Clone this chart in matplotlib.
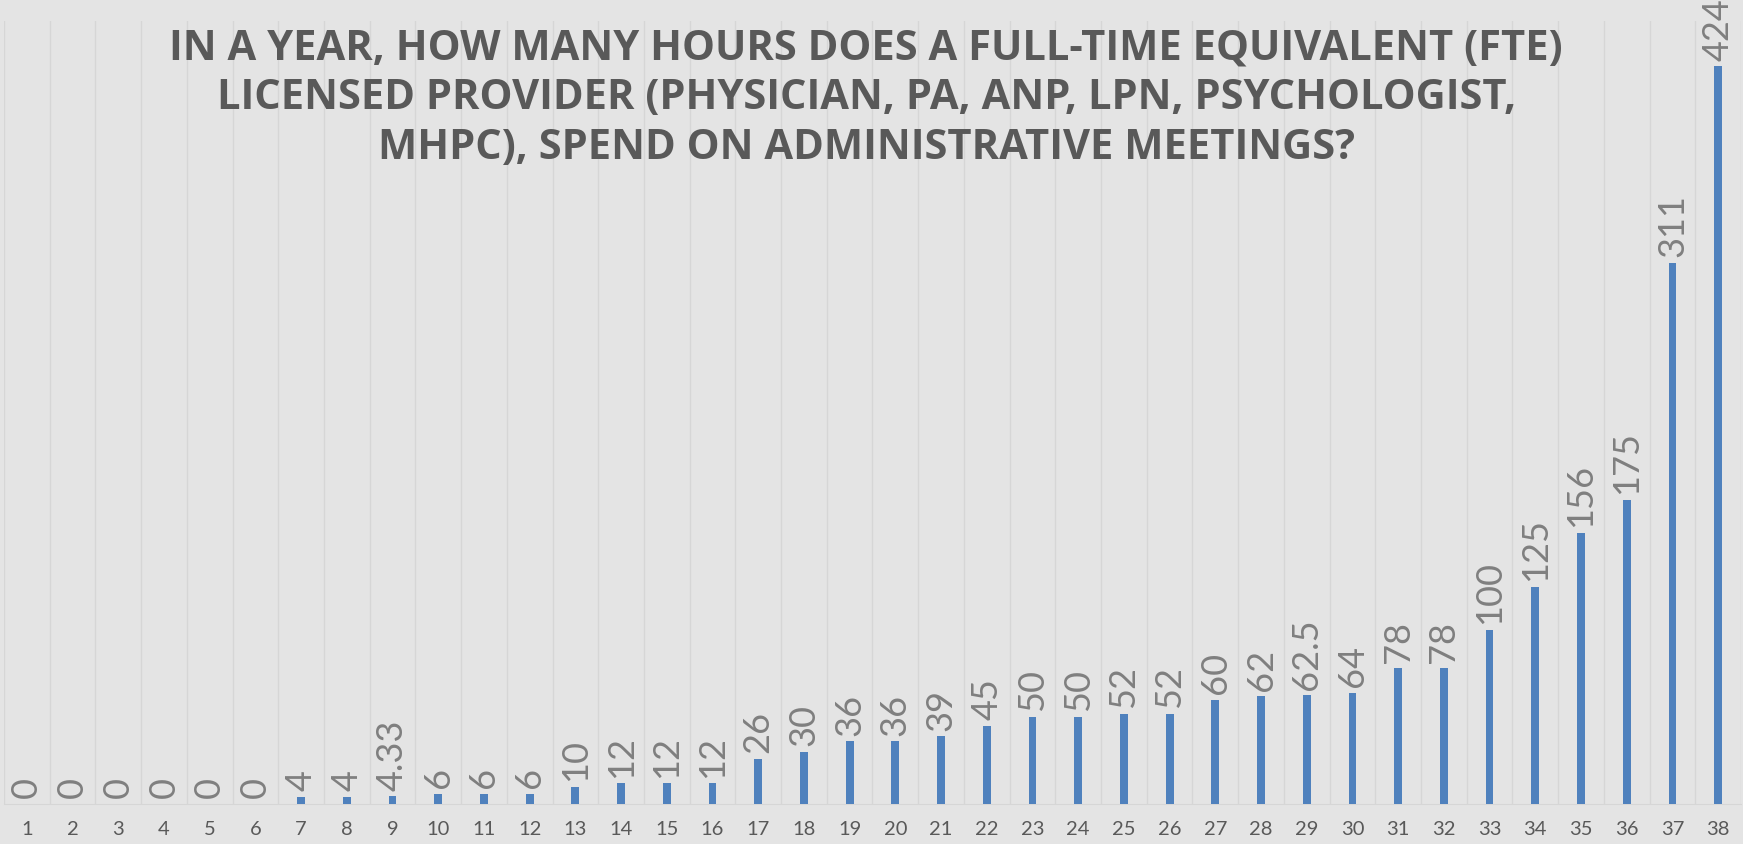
import numpy as np
import matplotlib
matplotlib.use("Agg")
import matplotlib.pyplot as plt

# data
categories = [str(i) for i in range(1, 39)]
hours = [0, 0, 0, 0, 0, 0, 4, 4, 4.33, 6, 6, 6, 10, 12, 12, 12, 26, 30, 36, 36,
         39, 45, 50, 50, 52, 52, 60, 62, 62.5, 64, 78, 78, 100, 125, 156, 175,
         311, 424]
value_labels = ["0", "0", "0", "0", "0", "0", "4", "4", "4.33", "6", "6", "6",
                "10", "12", "12", "12", "26", "30", "36", "36", "39", "45", "50",
                "50", "52", "52", "60", "62", "62.5", "64", "78", "78", "100",
                "125", "156", "175", "311", "424"]
title = ("IN A YEAR, HOW MANY HOURS DOES A FULL-TIME EQUIVALENT (FTE)\n"
         "LICENSED PROVIDER (PHYSICIAN, PA, ANP, LPN, PSYCHOLOGIST,\n"
         "MHPC), SPEND ON ADMINISTRATIVE MEETINGS?")

bg = "#e4e4e4"
grid_col = "#d6d6d6"
bar_col = "#4f81bd"

fig = plt.figure(figsize=(17.43, 8.44), dpi=100, facecolor=bg)
ax = fig.add_axes([4 / 1743, 40 / 844, 1737 / 1743, 783 / 844])
ax.set_facecolor(bg)

x = np.arange(len(hours))
bars = ax.bar(x, hours, width=0.17, color=bar_col, zorder=3)

ax.set_xlim(-0.5, len(hours) - 0.5)
ax.set_ylim(0, 450)

# category boundary gridlines
for b in np.arange(-0.5, len(hours) + 0.5, 1):
    ax.axvline(b, color=grid_col, lw=1, zorder=1)

for rect, lab in zip(bars, value_labels):
    ax.annotate(lab, (rect.get_x() + rect.get_width() / 2, rect.get_height()),
                xytext=(0, 4), textcoords="offset points", rotation=90,
                ha="center", va="bottom", fontsize=26, color="#7f7f7f",
                family="Lato", zorder=4)

for s in ["left", "right", "top"]:
    ax.spines[s].set_visible(False)
ax.spines["bottom"].set_color(grid_col)
ax.set_yticks([])
ax.set_xticks(x)
ax.set_xticklabels(categories, fontsize=14.5, color="#595959", family="Lato")
ax.tick_params(axis="x", length=0, pad=12)

fig.text(0.497, 0.966, title, ha="center", va="top", fontsize=30,
         fontweight="bold", color="#595959", family="Open Sans",
         linespacing=1.28)

fig.savefig("out.png", dpi=100, facecolor=bg)
